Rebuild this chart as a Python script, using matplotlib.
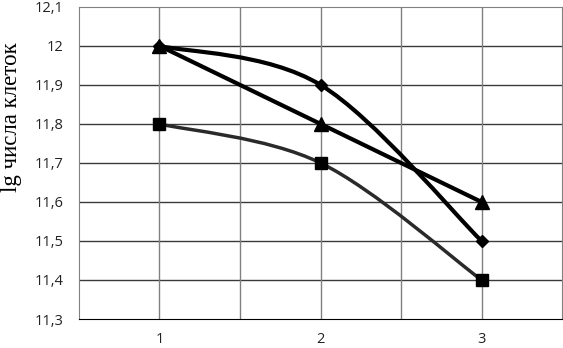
import numpy as np
import matplotlib
matplotlib.use("Agg")
import matplotlib.pyplot as plt
from matplotlib.path import Path
from matplotlib.patches import PathPatch
from matplotlib.ticker import FuncFormatter, MultipleLocator

x = [1, 2, 3]
diamond = [12.0, 11.9, 11.5]    # smoothed line
triangle = [12.0, 11.8, 11.6]   # straight line
square = [11.8, 11.7, 11.4]     # smoothed line, grey

ylabel = "lg числа клеток"


def smooth_path(xs, ys):
    # Excel-style smoothing: cubic Bezier with 1/6 neighbour tangents
    pts = np.column_stack([xs, ys]).astype(float)
    n = len(pts)
    verts = [pts[0]]
    codes = [Path.MOVETO]
    for i in range(n - 1):
        p0 = pts[max(i - 1, 0)]
        p1 = pts[i]
        p2 = pts[i + 1]
        p3 = pts[min(i + 2, n - 1)]
        c1 = p1 + (p2 - p0) / 6.0
        c2 = p2 - (p3 - p1) / 6.0
        verts += [c1, c2, p2]
        codes += [Path.CURVE4] * 3
    return Path(verts, codes)


fig = plt.figure(figsize=(5.63, 3.48), dpi=100)
ax = fig.add_axes([0.1403, 0.0833, 0.858, 0.897])

ax.set_xlim(0.5, 3.5)
ax.set_ylim(11.3, 12.1)

for yv in np.arange(11.4, 12.05, 0.1):
    ax.axhline(yv, color="#3a3a3a", lw=1.0, zorder=1)
for xv in [1, 1.5, 2, 2.5, 3]:
    ax.axvline(xv, color="#808080", lw=1.0, zorder=1)

# diamond series
ax.add_patch(PathPatch(smooth_path(x, diamond), fill=False, ec="black", lw=3, zorder=3))
ax.plot(x, diamond, ls="none", marker="D", ms=6, color="black", zorder=4)

# triangle series
ax.plot(x, triangle, color="black", lw=3, marker="^", ms=10, zorder=4)

# square series
ax.add_patch(PathPatch(smooth_path(x, square), fill=False, ec="#2a2a2a", lw=2.5, zorder=3))
ax.plot(x, square, ls="none", marker="s", ms=9, color="black", zorder=4)

ax.set_xticks(x)
ax.yaxis.set_major_locator(MultipleLocator(0.1))
ax.yaxis.set_major_formatter(FuncFormatter(
    lambda v, p: ("%.1f" % v).rstrip("0").rstrip(".").replace(".", ",")))
ax.tick_params(length=0, labelsize=10.5, colors="#222222")
ax.tick_params(axis="x", pad=9)
ax.tick_params(axis="y", pad=11)
for lab in ax.get_xticklabels() + ax.get_yticklabels():
    lab.set_family("Open Sans")

for s in ["top", "right", "left"]:
    ax.spines[s].set_color("#808080")
ax.spines["bottom"].set_color("black")

ax.set_ylabel(ylabel, family="Liberation Serif", fontsize=16.5)
ax.yaxis.set_label_coords(-0.118, 0.647)

plt.savefig("out.png", dpi=100)
